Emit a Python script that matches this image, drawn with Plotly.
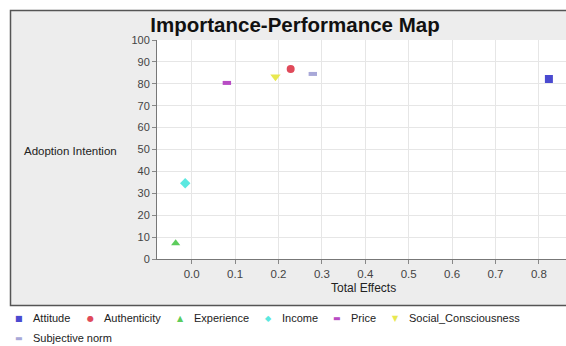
import plotly.graph_objects as go

# ---- data ----
series = ["Attitude", "Authenticity", "Experience", "Income", "Price",
          "Social_Consciousness", "Subjective norm"]
total_effects = [0.823, 0.228, -0.037, -0.015, 0.081, 0.193, 0.279]
performance = [82.2, 86.8, 7.2, 34.6, 80.4, 83.2, 84.5]
x_ticks = [0.0, 0.1, 0.2, 0.3, 0.4, 0.5, 0.6, 0.7, 0.8]
y_ticks = [0, 10, 20, 30, 40, 50, 60, 70, 80, 90, 100]

# ---- styles ----
colors = ["#4a4ad0", "#e04a5a", "#5ccc5c", "#5ae8e0", "#b84cc4", "#e8e850", "#a8a8d8"]
symbols = ["square", "circle", "triangle-up", "diamond", "line-ew", "triangle-down", "line-ew"]
sizes = [8, 8, 8, 8, 6, 9, 6]
glyphs = ["■", "●", "▲", "◆", "▬", "▼", "▬"]

W, H = 566, 346
L, R, T, B = 157, 0, 40, 87
PW, PH = W - L - R, H - T - B


def px(x):
    return (x - L) / PW


def py(y):
    return (H - B - y) / PH


FONT = "Liberation Sans, Arial, sans-serif"

fig = go.Figure()
for name, xv, yv, c, s, sz in zip(series, total_effects, performance, colors, symbols, sizes):
    is_line = s.startswith("line")
    fig.add_trace(go.Scatter(
        x=[xv], y=[yv], mode="markers", name=name,
        marker=dict(symbol=s, size=sz, color=c,
                    line=dict(color=c, width=4 if is_line else 0)),
        showlegend=False,
    ))

shapes = [
    # gray chart panel with border
    dict(type="rect", xref="paper", yref="paper",
         x0=px(10.5), x1=px(570), y0=py(305.5), y1=py(10.5),
         fillcolor="#ededed", line=dict(color="#555555", width=1.5), layer="below"),
    # white plot area
    dict(type="rect", xref="paper", yref="paper", x0=0, x1=1, y0=0, y1=1,
         fillcolor="white", line=dict(width=0), layer="below"),
]

annotations = [
    dict(text="Adoption Intention", xref="paper", yref="paper",
         x=px(22), y=py(151), xanchor="left", yanchor="middle", showarrow=False,
         font=dict(family=FONT, size=11.5, color="#222222")),
    dict(text="Total Effects", xref="paper", yref="paper",
         x=px(363), y=py(288), xanchor="center", yanchor="middle", showarrow=False,
         font=dict(family=FONT, size=12, color="#222222")),
]

# legend drawn as text entries
sym_x = [19, 90, 180, 268, 337, 395, 19]
txt_x = [31, 102, 192, 280, 349, 407, 31]
row_y = [318, 318, 318, 318, 318, 318, 338]
for name, c, g, sx, tx, ry in zip(series, colors, glyphs, sym_x, txt_x, row_y):
    annotations.append(dict(text=g, xref="paper", yref="paper", x=px(sx), y=py(ry),
                            xanchor="center", yanchor="middle", showarrow=False,
                            font=dict(family="DejaVu Sans", size=8, color=c)))
    annotations.append(dict(text=name, xref="paper", yref="paper", x=px(tx), y=py(ry),
                            xanchor="left", yanchor="middle", showarrow=False,
                            font=dict(family=FONT, size=11, color="#222222")))

fig.update_layout(
    width=W, height=H,
    margin=dict(l=L, r=R, t=T, b=B, autoexpand=False),
    paper_bgcolor="white", plot_bgcolor="white",
    title=dict(text="<b>Importance-Performance Map</b>", xref="container", yref="container",
               x=295 / W, y=1 - 25 / H, xanchor="center", yanchor="middle",
               font=dict(family=FONT, size=20.5, color="#111111")),
    shapes=shapes, annotations=annotations,
    showlegend=False,
    xaxis=dict(range=[-0.080, 0.8624], tickvals=x_ticks, tickformat=".1f",
               showgrid=True, gridcolor="#e6e6e6", gridwidth=1, zeroline=False,
               showline=True, linecolor="#777777", linewidth=1,
               ticks="outside", ticklen=4, tickcolor="#888888",
               tickfont=dict(family=FONT, size=11.5, color="#444444")),
    yaxis=dict(range=[0, 100], tickvals=y_ticks,
               showgrid=True, gridcolor="#e6e6e6", gridwidth=1, zeroline=False,
               showline=True, linecolor="#777777", linewidth=1,
               ticks="outside", ticklen=4, tickcolor="#888888",
               tickfont=dict(family=FONT, size=11, color="#444444")),
)

fig.write_html(
    "out.html",
    config={"displayModeBar": False},
    post_script="document.body.style.margin='0';document.body.style.overflow='hidden';",
)
